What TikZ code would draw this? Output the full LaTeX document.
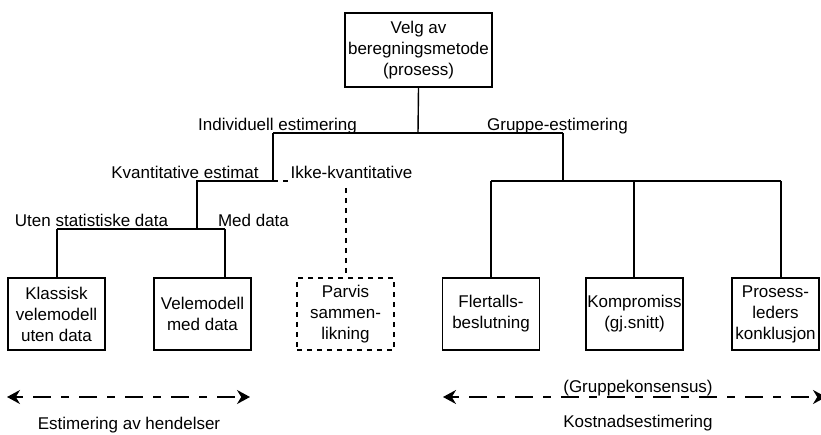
\documentclass[tikz,border=0pt]{standalone}
\usepackage{fontspec}
\setmainfont{Liberation Sans}
\usetikzlibrary{arrows.meta}
\begin{document}
\begin{tikzpicture}[x=1pt,y=-1pt, font=\fontsize{17}{21}\selectfont,
  box/.style={draw, line width=1.4pt, minimum width=97pt, minimum height=72pt, align=center, inner sep=0pt},
  dbox/.style={box, dash pattern=on 5pt off 5pt},
  lbl/.style={anchor=base, inner sep=0pt},
  conn/.style={line width=1.4pt},
  dconn/.style={conn, dash pattern=on 5pt off 5pt},
  span/.style={line width=1.6pt, dash pattern=on 8pt off 10pt on 18pt off 10pt,
    {Stealth[length=13pt,width=14pt]}-{Stealth[length=13pt,width=14pt]}}]
\useasboundingbox (0,0) rectangle (821,435);

% boxes
\node[box, minimum width=147pt, minimum height=74pt] (top) at (418.5,50) {Velg av\\beregningsmetode\\(prosess)};
\node[box] (box1) at (56.5,314) {Klassisk\\velemodell\\uten data};
\node[box] (box2) at (202.5,314) {Velemodell\\med data};
\node[dbox] (box3) at (345.5,314) {Parvis\\sammen-\\likning};
\node[box] (box4) at (491,314) {Flertalls-\\beslutning};
\node[box] (box5) at (634.5,314) {Kompromiss\\(gj.snitt)};
\node[box, minimum width=87pt] (box6) at (775.5,314) {Prosess-\\leders\\konklusjon};

% junctions
\coordinate (jtop) at (418,133);
\coordinate (jind) at (273,133);
\coordinate (jgrp) at (563,133);
\coordinate (jkv) at (273,181);
\coordinate (jkvl) at (197,181);
\coordinate (jik) at (346,181);
\coordinate (jdat) at (197,229);
\coordinate (jul) at (57,229);
\coordinate (jmr) at (225,229);
\coordinate (jg) at (563,181);
\coordinate (jgl) at (491,181);
\coordinate (jgm) at (634,181);
\coordinate (jgr) at (781,181);

% connectors
\draw[conn] (top.south) -- (jtop);
\draw[conn] (jind) -- (jgrp);
\draw[conn] (jind) -- (jkv) -- (jkvl) -- (jdat);
\draw[conn] (jul) -- (jmr);
\draw[conn] (jul) -- (jul |- box1.north);
\draw[conn] (jmr) -- (jmr |- box2.north);
\draw[dconn] (jkv) -- (jik) -- (jik |- box3.north);
\draw[conn] (jgrp) -- (jg);
\draw[conn] (jgl) -- (jgr);
\draw[conn] (jgl) -- (box4.north);
\draw[conn] (jgm) -- (jgm |- box5.north);
\draw[conn] (jgr) -- (jgr |- box6.north);

% labels
\node[lbl] (lind) at (277.5,131) {Individuell estimering};
\node[lbl] (lgrp) at (557.5,131) {Gruppe-estimering};
\node[lbl] (lkv) at (185,179) {Kvantitative estimat};
\node[lbl, fill=white, inner xsep=3pt, inner ysep=5pt] (lik) at (351.5,179) {Ikke-kvantitative};
\node[lbl] (luten) at (91.5,227) {Uten statistiske data};
\node[lbl] (lmed) at (253.5,227) {Med data};

% bottom spans
\coordinate (al) at (7,397);
\coordinate (ar) at (250,397);
\draw[span] (al) -- (ar);
\node[lbl] (lev) at (129,429) {Estimering av hendelser};
\coordinate (bl) at (443,397);
\coordinate (br) at (826,397);
\draw[span] (bl) -- (br);
\node[lbl] (lgk) at (638,392) {(Gruppekonsensus)};
\node[lbl] (lke) at (638,427) {Kostnadsestimering};
\end{tikzpicture}
\end{document}
